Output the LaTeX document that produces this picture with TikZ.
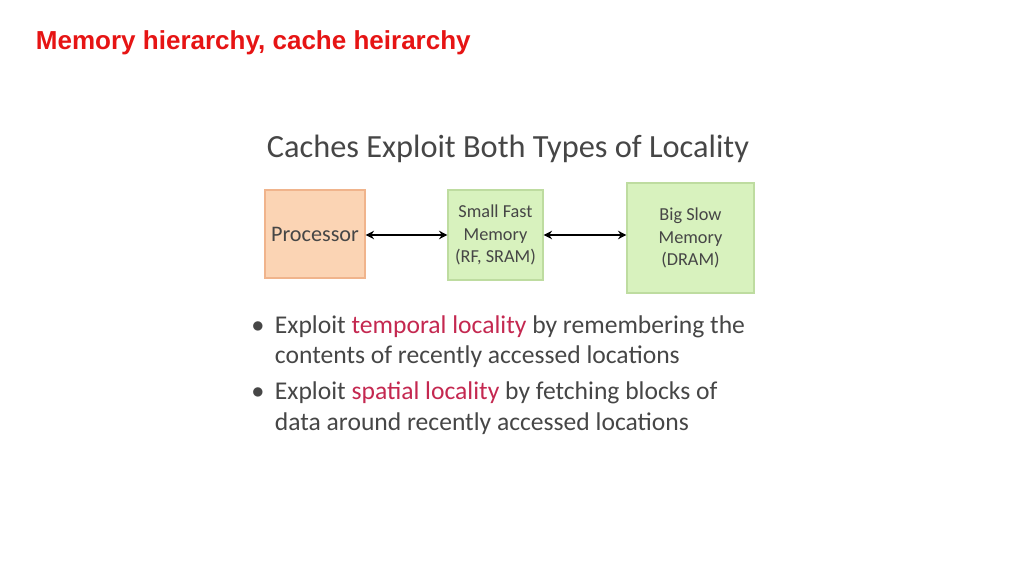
\documentclass[tikz,border=0pt]{standalone}
\usepackage{fontspec}
\usetikzlibrary{arrows.meta}
\setmainfont{Carlito}
\newfontfamily\titlefont{Liberation Sans}
\definecolor{loc}{RGB}{196,40,80}
\definecolor{ored}{RGB}{230,20,20}
\definecolor{pfill}{RGB}{251,212,180}
\definecolor{pdraw}{RGB}{240,180,140}
\definecolor{gfill}{RGB}{216,242,190}
\definecolor{gdraw}{RGB}{190,220,160}
\definecolor{txt}{RGB}{70,70,70}
\begin{document}
\begin{tikzpicture}[x=0.025cm,y=-0.025cm,
  pbox/.style={draw=pdraw,fill=pfill,line width=0.8pt,text=txt},
  gbox/.style={draw=gdraw,fill=gfill,line width=0.8pt,text=txt,align=center,font=\fontsize{13}{16}\selectfont},
  arr/.style={<->,>={Stealth[length=6pt,width=6pt]},line width=1.6pt},
  bul/.style={anchor=west,text=txt,font=\fontsize{18.2}{21}\selectfont}]
\useasboundingbox (0,0) rectangle (1024,576);
\node[anchor=west,text=ored,font=\titlefont\bfseries\fontsize{18.5}{22}\selectfont] (title) at (31,43) {Memory hierarchy, cache heirarchy};
\node[text=txt,font=\fontsize{23}{27}\selectfont] (head) at (508,149) {Caches Exploit Both Types of Locality};
\node[pbox,minimum width=100*0.025cm,minimum height=88*0.025cm,font=\fontsize{15.8}{19}\selectfont] (p) at (315,234) {Processor};
\node[gbox,minimum width=95*0.025cm,minimum height=90*0.025cm] (s) at (495.5,235) {Small Fast\\Memory\\(RF, SRAM)};
\node[gbox,minimum width=127*0.025cm,minimum height=110*0.025cm] (b) at (690.5,238) {Big Slow\\Memory\\(DRAM)};
\coordinate (y) at (0,235);
\draw[arr] (p.east |- y) -- (s.west |- y);
\draw[arr] (s.east |- y) -- (b.west |- y);
\node[bul] (b1) at (247,327) {$\bullet$};
\node[bul] (l1) at (270,327) {Exploit \textcolor{loc}{temporal locality} by remembering the};
\node[bul] (l2) at (270,357) {contents of recently accessed locations};
\node[bul] (b2) at (247,393) {$\bullet$};
\node[bul] (l3) at (270,393) {Exploit \textcolor{loc}{spatial locality} by fetching blocks of};
\node[bul] (l4) at (270,424) {data around recently accessed locations};
\end{tikzpicture}
\end{document}
